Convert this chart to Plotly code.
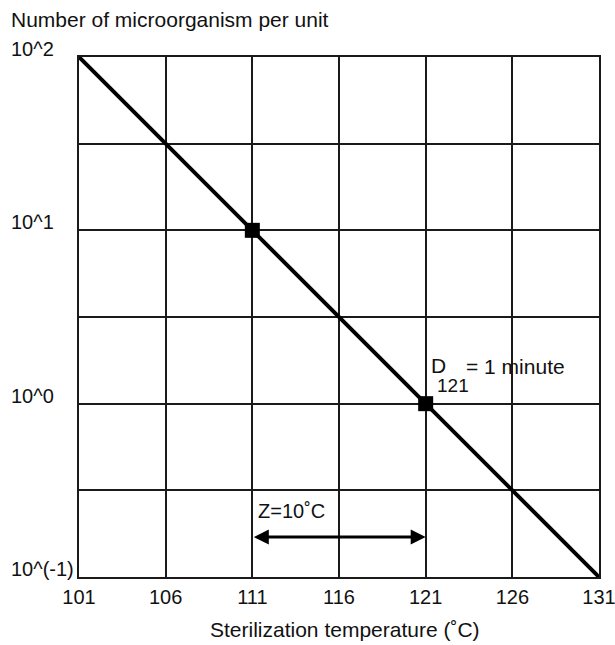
import math
import plotly.graph_objects as go

# ---- data ----
line_temps = [101, 131]
line_counts = [100, 0.1]
marker_temps = [111, 121]
marker_counts = [10, 1]
x_tick_vals = [101, 106, 111, 116, 121, 126, 131]
y_tick_vals = [100, 10, 1, 0.1]
y_tick_text = ["10^2", "10^1", "10^0", "10^(-1)"]
y_grid_vals = [0.1, 0.3162, 1, 3.162, 10, 31.62, 100]
z_span = [111, 121]
z_level = 0.17
z_text = "Z=10˚C"
d_temp, d_count = 121, 1
y_title = "Number of microorganism per unit"
x_title = "Sterilization temperature (˚C)"

FONT = "Liberation Sans, Arial, sans-serif"
INK = "#111111"

fig = go.Figure()
fig.add_trace(go.Scatter(x=line_temps, y=line_counts, mode="lines",
                         line=dict(color="black", width=4), showlegend=False,
                         cliponaxis=False))
fig.add_trace(go.Scatter(x=marker_temps, y=marker_counts, mode="markers",
                         marker=dict(symbol="square", size=15, color="black"),
                         showlegend=False, cliponaxis=False))

ann = []
# y tick labels
for v, t in zip(y_tick_vals, y_tick_text):
    ann.append(dict(x=0, xref="paper", xshift=-70, xanchor="left",
                    y=math.log10(v), yref="y", yanchor="middle", yshift=8,
                    text=t, showarrow=False, font=dict(size=20, color=INK, family=FONT)))
# y title
ann.append(dict(x=0, xref="paper", xshift=-70, xanchor="left",
                y=1, yref="paper", yanchor="middle", yshift=38,
                text=y_title, showarrow=False, font=dict(size=21, color=INK, family=FONT)))
# x title
ann.append(dict(x=0.5, xref="paper", xshift=6, xanchor="center",
                y=0, yref="paper", yanchor="middle", yshift=-52,
                text=x_title, showarrow=False, font=dict(size=21, color=INK, family=FONT)))
# Z arrow
ann.append(dict(x=z_span[1], y=math.log10(z_level), xref="x", yref="y",
                ax=z_span[0], ay=math.log10(z_level), axref="x", ayref="y",
                showarrow=True, arrowhead=2, arrowside="end+start",
                arrowsize=1, arrowwidth=3, arrowcolor="black", text=""))
ann.append(dict(x=z_span[0], y=math.log10(z_level), xref="x", yref="y",
                xanchor="left", yanchor="middle", xshift=4, yshift=26,
                text=z_text, showarrow=False, font=dict(size=20, color=INK, family=FONT)))
# D121 label
ann.append(dict(x=d_temp, y=math.log10(d_count), xref="x", yref="y",
                xanchor="left", yanchor="middle", xshift=3, yshift=38,
                text="D", showarrow=False, font=dict(size=21, color=INK, family=FONT)))
ann.append(dict(x=d_temp, y=math.log10(d_count), xref="x", yref="y",
                xanchor="left", yanchor="middle", xshift=9, yshift=18,
                text="121", showarrow=False, font=dict(size=19, color=INK, family=FONT)))
ann.append(dict(x=d_temp, y=math.log10(d_count), xref="x", yref="y",
                xanchor="left", yanchor="middle", xshift=38, yshift=37,
                text="= 1 minute", showarrow=False, font=dict(size=21, color=INK, family=FONT)))

fig.update_layout(
    width=615, height=645, autosize=False,
    margin=dict(l=79, r=16, t=57, b=68),
    paper_bgcolor="white", plot_bgcolor="white",
    annotations=ann,
    font=dict(family=FONT, color=INK),
)
fig.update_xaxes(range=[101, 131], tickvals=x_tick_vals,
                 ticktext=[str(v) for v in x_tick_vals],
                 tickfont=dict(size=20, color=INK, family=FONT),
                 ticklabeloverflow="allow", automargin=False,
                 showgrid=True, gridcolor="#1a1a1a", gridwidth=1.5,
                 showline=True, linecolor="#1a1a1a", linewidth=2, mirror=True,
                 ticks="", ticklabelstandoff=1, zeroline=False)
fig.update_yaxes(type="log", range=[-1, 2], tickvals=y_grid_vals,
                 showticklabels=False, automargin=False,
                 showgrid=True, gridcolor="#1a1a1a", gridwidth=1.5,
                 showline=True, linecolor="#1a1a1a", linewidth=2, mirror=True,
                 ticks="", zeroline=False)

fig.write_html("out.html",
               config={"displayModeBar": False, "responsive": False},
               default_width="615px", default_height="645px",
               post_script="document.body.style.margin='0';document.body.style.padding='0';"
                           "document.body.style.overflow='hidden';")
